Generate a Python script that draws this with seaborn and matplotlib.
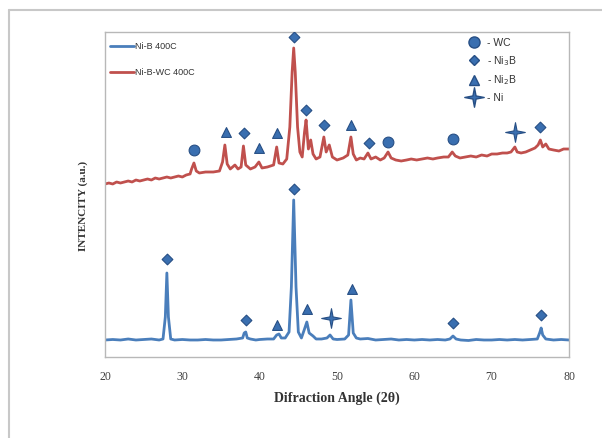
import pandas as pd
import seaborn as sns
import matplotlib.pyplot as plt
from matplotlib.lines import Line2D
from matplotlib.path import Path

# ---- data (intensity in arbitrary units) ----
nib_angle = [20, 21, 22, 23, 24, 25, 26, 27, 27.5, 27.8, 28.0, 28.2, 28.5, 29, 30, 31, 32, 33, 34, 35,
             36, 37, 37.8, 38.0, 38.2, 38.4, 38.8, 39.5, 40, 41, 41.8, 42.2, 42.5, 42.8, 43.3, 43.8, 44.1,
             44.4, 44.7, 45.0, 45.4, 45.8, 46.1, 46.4, 46.9, 47.3, 48, 48.7, 49.1, 49.5, 50, 51, 51.5,
             51.8, 52.1, 52.5, 53, 54, 55, 56, 57, 58, 59, 60, 61, 62, 63, 64, 64.6, 65.0, 65.4, 66, 67,
             68, 69, 70, 71, 72, 73, 74, 75, 75.9, 76.2, 76.4, 76.6, 77, 78, 79, 80]
nib_int = [17, 17.5, 17, 18, 17, 17.5, 18, 17, 18, 40, 84, 40, 18, 17, 17.5, 17, 17, 17.5, 17, 17,
           17.5, 18, 19, 24, 25, 19, 18, 17, 17.5, 18, 18, 22, 23, 19, 19, 25, 70,
           157, 70, 25, 19, 28, 35, 24, 21, 18, 18, 19, 22, 18, 17.5, 18, 22,
           57, 24, 19, 18, 18.5, 17, 17.5, 18, 17, 17.5, 17, 17.5, 17, 17.5, 17, 18, 21, 18, 17, 16.5,
           17.5, 17, 17, 17.5, 17, 17.5, 17, 17.5, 18, 24, 29, 22, 18, 17, 17.5, 17]

nibwc_angle = [20, 20.5, 21, 21.5, 22, 22.5, 23, 23.5, 24, 24.5, 25, 25.5, 26, 26.5, 27, 27.5, 28, 28.5,
               29, 29.5, 30, 30.5, 31.0, 31.2, 31.5, 31.8, 32.2, 33, 34, 34.8, 35.2, 35.5, 35.8, 36.2,
               36.8, 37.2, 37.6, 37.9, 38.2, 38.8, 39.4, 39.9, 40.3, 41, 41.8, 42.2, 42.5, 43, 43.5,
               43.9, 44.2, 44.4, 44.6, 44.9, 45.2, 45.5, 45.8, 46.0, 46.3, 46.6, 46.9, 47.3, 47.8, 48.3,
               48.6, 49.0, 49.4, 50, 50.8, 51.4, 51.8, 52.1, 52.5, 53, 53.5, 54.0, 54.4, 55, 55.6, 56.1,
               56.6, 57, 57.6, 58.3, 59, 59.6, 60.3, 61, 61.7, 62.4, 63, 63.8, 64.4, 64.9, 65.3, 65.9,
               66.6, 67.3, 68, 68.7, 69.4, 70, 70.7, 71.4, 72, 72.5, 73.0, 73.3, 73.8, 74.4, 75, 75.6,
               76.0, 76.3, 76.6, 77, 77.4, 78, 78.7, 79.3, 80]
nibwc_int = [173, 174, 173, 175, 174, 175, 176, 175, 177, 176, 177, 178, 177, 179, 178, 179, 180, 179,
             180, 181, 180, 182, 183, 188, 194, 186, 184, 185, 185, 186, 195, 212, 193, 188,
             192, 188, 190, 211, 192, 188, 190, 195, 189, 190, 192, 210, 194, 193, 198,
             230, 285, 309, 285, 230, 205, 200, 225, 237, 208, 217, 203, 198, 200, 220,
             205, 212, 200, 197, 199, 202, 220, 203, 197, 199, 198, 204, 198, 200, 197, 199,
             205, 199, 197, 196, 197, 198, 197, 198, 199, 198, 199, 200, 200, 205, 201, 199,
             200, 201, 200, 202, 201, 203, 203, 204, 204, 205, 210, 205, 204, 205, 207, 209,
             212, 217, 210, 213, 208, 207, 206, 208, 208]

# phase markers: (angle, height)
wc_marks = [(31.5, 207), (56.6, 215), (65.0, 218)]
ni3b_marks = [(38.0, 224), (44.4, 320), (46.0, 247), (48.3, 232), (54.1, 214), (76.3, 230),
              (28.0, 98), (38.2, 37), (44.4, 168), (65.0, 34), (76.4, 42)]
ni2b_marks = [(35.6, 225), (39.9, 209), (42.2, 224), (51.8, 232),
              (42.3, 32), (46.1, 48), (51.9, 68)]
ni_marks = [(73.0, 225), (49.2, 39)]

df = pd.concat([
    pd.DataFrame({'angle': nib_angle, 'intensity': nib_int, 'sample': 'Ni-B 400C'}),
    pd.DataFrame({'angle': nibwc_angle, 'intensity': nibwc_int, 'sample': 'Ni-B-WC 400C'}),
])

# slim four-pointed star like the one in the original
r = 0.16
star4 = Path([(0, 1), (r, r), (1, 0), (r, -r), (0, -1), (-r, -r), (-1, 0), (-r, r), (0, 1)],
             closed=True)

sns.set_style('white')
fig = plt.figure(figsize=(6.02, 4.38), dpi=100)
ax = fig.add_axes([105 / 602, 1 - 357 / 438, 464 / 602, 325 / 438])

line_cols = {'Ni-B 400C': '#4a7ebb', 'Ni-B-WC 400C': '#c0504d'}
sns.lineplot(data=df, x='angle', y='intensity', hue='sample', palette=line_cols,
             linewidth=2, ax=ax, sort=False, estimator=None)

mcol = '#3a6fb0'
medge = '#274f85'
for marks, mk, sz in [(wc_marks, 'o', 60), (ni3b_marks, 'D', 30),
                      (ni2b_marks, '^', 50), (ni_marks, star4, 200)]:
    sns.scatterplot(x=[m[0] for m in marks], y=[m[1] for m in marks], marker=mk, s=sz,
                    color=mcol, edgecolor=medge, linewidth=0.8, ax=ax, zorder=5)

ax.set_xlim(20, 80)
ax.set_ylim(0, 325)
ax.set_xticks(range(20, 81, 10))
ax.set_yticks([])
ax.tick_params(axis='x', direction='out', length=4, width=0.8, color='#a0a0a0',
               labelsize=8.5, labelcolor='#404040', pad=6)
for lbl in ax.get_xticklabels():
    lbl.set_family('Liberation Serif')
for s in ax.spines.values():
    s.set_color('#b8b8b8')
    s.set_linewidth(1)

ax.set_xlabel('Difraction Angle (2θ)', family='Liberation Serif', fontweight='bold',
              fontsize=10, color='#333333', labelpad=6)
ax.set_ylabel('INTENCITY (a.u.)', family='Liberation Serif', fontweight='bold',
              fontsize=8, color='#333333')
ax.yaxis.set_label_coords(-0.037, 0.465)

# sample legend (top left)
leg1 = ax.legend(loc='upper left', bbox_to_anchor=(0.0, 0.985), frameon=False,
                 handlelength=2.6, handletextpad=0.1, labelspacing=1.9,
                 prop={'family': 'Liberation Sans', 'size': 6.5}, borderaxespad=0.2)
for t in leg1.get_texts():
    t.set_color('#333333')
ax.add_artist(leg1)

# phase legend (top right)
phase_handles = [
    Line2D([], [], ls='none', marker='o', ms=8, color=mcol, mec=medge, label='- WC'),
    Line2D([], [], ls='none', marker='D', ms=5.5, color=mcol, mec=medge, label='- Ni$_3$B'),
    Line2D([], [], ls='none', marker='^', ms=7, color=mcol, mec=medge, label='- Ni$_2$B'),
    Line2D([], [], ls='none', marker=star4, ms=14, color=mcol, mec=medge, label='- Ni'),
]
leg2 = ax.legend(handles=phase_handles, loc='upper left', bbox_to_anchor=(0.76, 1.01),
                 frameon=False, handlelength=1.4, handletextpad=0.5, labelspacing=0.55,
                 prop={'family': 'Liberation Sans', 'size': 7.5})
for t in leg2.get_texts():
    t.set_color('#333333')

# outer frame of the picture
fig.add_artist(Line2D([9 / 602, 9 / 602], [0, 1 - 10 / 438], transform=fig.transFigure,
                      color='#c8c8c8', lw=1.5))
fig.add_artist(Line2D([9 / 602, 1], [1 - 10 / 438, 1 - 10 / 438], transform=fig.transFigure,
                      color='#c8c8c8', lw=1.5))

fig.savefig('out.png', dpi=100)
